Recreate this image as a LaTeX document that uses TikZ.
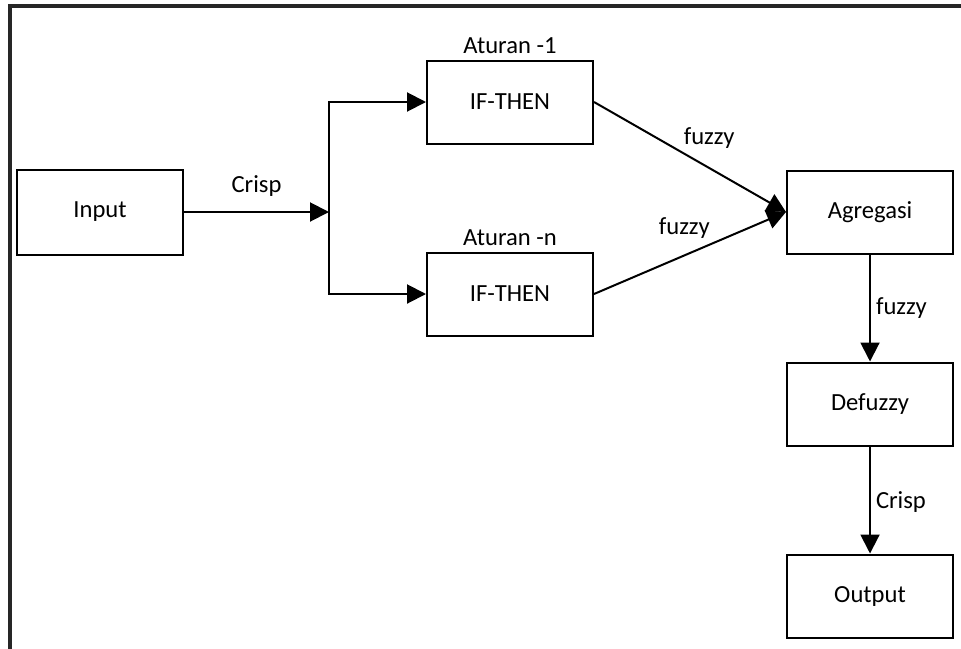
\documentclass[tikz,border=0pt]{standalone}
\usepackage{fontspec}
\setmainfont{Carlito}
\usetikzlibrary{arrows.meta}
\begin{document}
\begin{tikzpicture}[x=0.5pt,y=-0.5pt,
  font=\fontsize{12.3}{14}\selectfont,
  blok/.style={draw,line width=1pt,minimum width=83pt,minimum height=41.5pt,inner sep=0pt},
  arr/.style={line width=1pt,-{Triangle[length=9.5pt,width=9.5pt]}},
  lbl/.style={inner sep=1pt}]
\useasboundingbox (0,0) rectangle (961,648);
% outer frame, running past the page edge on the right and bottom
\begin{scope}
  \clip (0,0) rectangle (961,648);
  \draw[line width=1.6pt,black!85] (10,6) rectangle (990,680);
\end{scope}

% blocks
\node[blok,minimum height=42.5pt] (in) at (100,212) {Input};
\node[blok] (r1) at (510,102) {IF-THEN};
\node[blok] (rn) at (510,294) {IF-THEN};
\node[blok] (agg) at (870,212) {Agregasi};
\node[blok] (def) at (870,404) {Defuzzy};
\node[blok] (out) at (870,596) {Output};

% rule titles
\node[lbl] (t1) at (510,46) {Aturan -1};
\node[lbl] (tn) at (510,238) {Aturan -n};

% branching point
\coordinate (split) at (329,212);

% connectors
\draw[arr] (in.east) -- node[lbl,midway,yshift=13pt] {Crisp} (split);
\draw[arr] (split) |- (r1.west);
\draw[arr] (split) |- (rn.west);
\draw[arr] (r1.east) -- node[lbl,pos=0.6,yshift=15pt] {fuzzy} (agg.west);
\draw[arr] (rn.east) -- node[lbl,pos=0.47,yshift=13.5pt] {fuzzy} (agg.west);
\draw[arr] (agg.south) -- node[lbl,midway,right=1.5pt] {fuzzy} (def.north);
\draw[arr] (def.south) -- node[lbl,midway,right=1.5pt,yshift=-1pt] {Crisp} (out.north);
\end{tikzpicture}
\end{document}
